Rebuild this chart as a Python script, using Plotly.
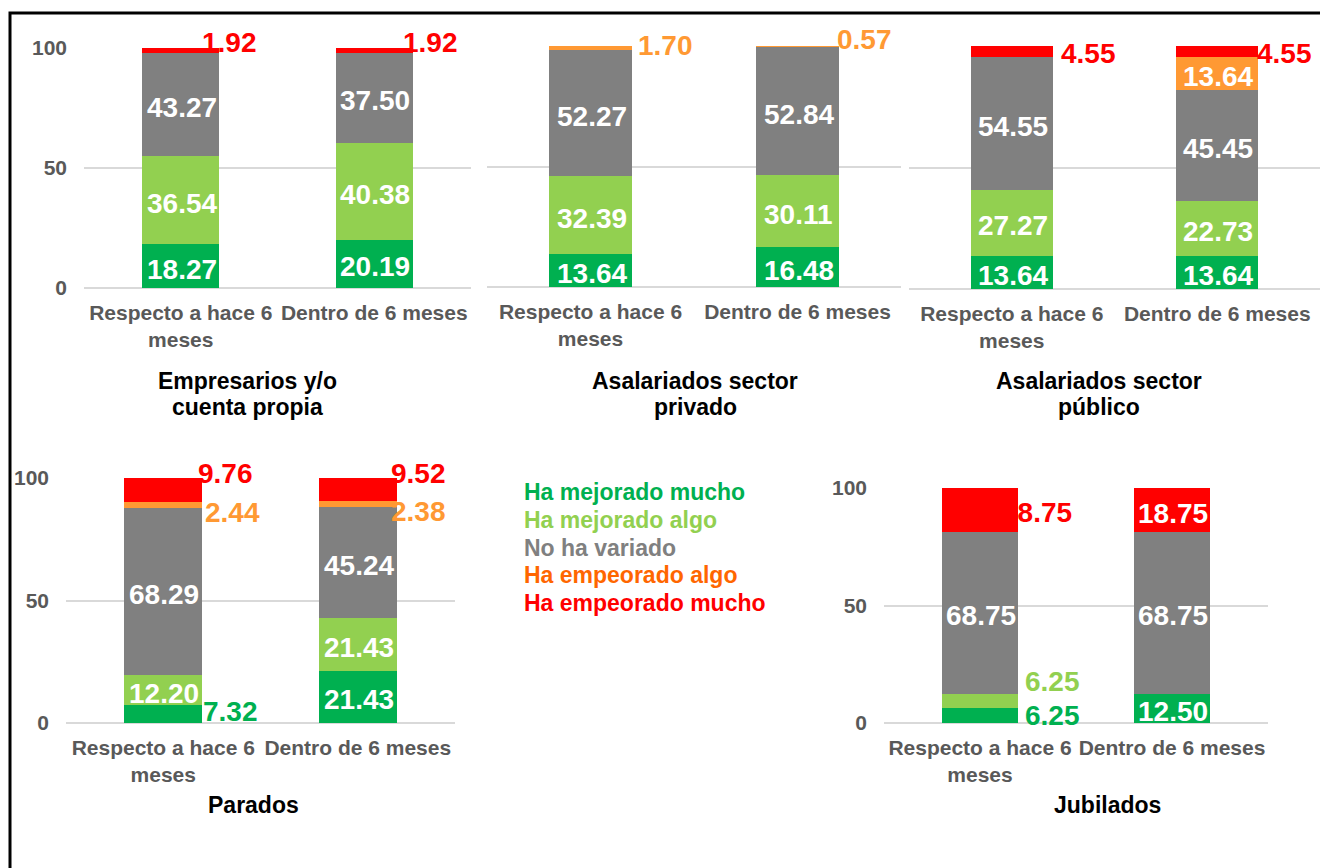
import plotly.graph_objects as go

# ---------------- data ----------------
categories = ["Respecto a hace 6 meses", "Dentro de 6 meses"]
tick_text = ["Respecto a hace 6<br>meses", "Dentro de 6 meses"]
series_names = ["Ha mejorado mucho", "Ha mejorado algo", "No ha variado",
                "Ha empeorado algo", "Ha empeorado mucho"]
panel_titles = [["Empresarios y/o", "cuenta propia"], ["Asalariados sector", "privado"],
                ["Asalariados sector", "público"], ["Parados"], ["Jubilados"]]

emp_mejor_mucho = [18.27, 20.19]
emp_mejor_algo = [36.54, 40.38]
emp_igual = [43.27, 37.50]
emp_peor_algo = [0, 0]
emp_peor_mucho = [1.92, 1.92]

priv_mejor_mucho = [13.64, 16.48]
priv_mejor_algo = [32.39, 30.11]
priv_igual = [52.27, 52.84]
priv_peor_algo = [1.70, 0.57]
priv_peor_mucho = [0, 0]

pub_mejor_mucho = [13.64, 13.64]
pub_mejor_algo = [27.27, 22.73]
pub_igual = [54.55, 45.45]
pub_peor_algo = [0, 13.64]
pub_peor_mucho = [4.55, 4.55]

par_mejor_mucho = [7.32, 21.43]
par_mejor_algo = [12.20, 21.43]
par_igual = [68.29, 45.24]
par_peor_algo = [2.44, 2.38]
par_peor_mucho = [9.76, 9.52]

jub_mejor_mucho = [6.25, 12.50]
jub_mejor_algo = [6.25, 0]
jub_igual = [68.75, 68.75]
jub_peor_algo = [0, 0]
jub_peor_mucho = [18.75, 18.75]

panels = [
    [emp_mejor_mucho, emp_mejor_algo, emp_igual, emp_peor_algo, emp_peor_mucho],
    [priv_mejor_mucho, priv_mejor_algo, priv_igual, priv_peor_algo, priv_peor_mucho],
    [pub_mejor_mucho, pub_mejor_algo, pub_igual, pub_peor_algo, pub_peor_mucho],
    [par_mejor_mucho, par_mejor_algo, par_igual, par_peor_algo, par_peor_mucho],
    [jub_mejor_mucho, jub_mejor_algo, jub_igual, jub_peor_algo, jub_peor_mucho],
]

# ---------------- styles ----------------
W, H = 1320, 868
bar_colors = ["#00B050", "#92D050", "#808080", "#FF9933", "#FF0000"]
legend_colors = ["#00B050", "#92D050", "#808080", "#FF6600", "#FF0000"]
FONT = "Arial, Liberation Sans, sans-serif"

boxes = [
    (84, 471, 48, 288),
    (487, 901, 46, 287),
    (909, 1320, 46, 289),
    (66, 455, 478, 723),
    (884, 1268, 488, 723),
]
show_yticks = [True, False, False, True, True]
title_pos = [(247, 381), (695, 381), (1099, 381), (253, 805), (1107, 805)]

outside = {
    (0, 0, 4): (49, 8), (0, 1, 4): (56, 8),
    (1, 0, 3): (75, 3), (1, 1, 3): (67, 7),
    (2, 0, 4): (77, -2), (2, 1, 4): (67, -2),
    (3, 0, 4): (62, 16), (3, 0, 3): (69, -8), (3, 0, 0): (67, 3),
    (3, 1, 4): (61, 16), (3, 1, 3): (61, -7),
    (4, 0, 4): (57, -2), (4, 0, 1): (72, 19), (4, 0, 0): (72, 0),
}

fig = go.Figure()
annotations = []

for p, series in enumerate(panels):
    sfx = "" if p == 0 else str(p + 1)
    xa, ya = "x" + sfx, "y" + sfx
    for s, vals in enumerate(series):
        fig.add_trace(go.Bar(
            x=categories, y=vals, name=series_names[s],
            marker=dict(color=bar_colors[s], line=dict(width=0)),
            xaxis=xa, yaxis=ya, showlegend=False, hoverinfo="skip",
        ))
    for c in range(len(categories)):
        base = 0.0
        for s, vals in enumerate(series):
            v = vals[c]
            mid = base + v / 2
            base += v
            if v == 0:
                continue
            key = (p, c, s)
            if key in outside:
                dx, dy = outside[key]
                col = bar_colors[s]
            else:
                dx, dy = 1, -3
                col = "white"
            annotations.append(dict(
                x=categories[c], y=min(mid, 100), xref=xa, yref=ya,
                text=f"{v:.2f}", showarrow=False, xshift=dx, yshift=dy,
                xanchor="center", yanchor="middle",
                font=dict(family=FONT, size=28, color=col, weight="bold"),
            ))
    l, r, t, b = boxes[p]
    fig.layout["xaxis" + sfx] = dict(
        domain=[l / W, r / W], anchor=ya, type="category",
        tickvals=categories, ticktext=tick_text, showgrid=False,
        showline=False, ticks="", zeroline=False,
        tickfont=dict(family=FONT, size=21, color="#595959", weight="bold"),
        ticklabelstandoff=10, fixedrange=True,
    )
    fig.layout["yaxis" + sfx] = dict(
        domain=[1 - b / H, 1 - t / H], anchor=xa, range=[0, 100],
        tickvals=[0, 50, 100], showticklabels=show_yticks[p],
        showgrid=True, gridcolor="#D9D9D9", gridwidth=2,
        zeroline=True, zerolinecolor="#D9D9D9", zerolinewidth=2,
        showline=False, ticks="", ticklabelstandoff=16,
        tickfont=dict(family=FONT, size=21, color="#595959", weight="bold"),
        fixedrange=True,
    )
    tx, ty = title_pos[p]
    for k, line in enumerate(panel_titles[p]):
        annotations.append(dict(
            x=tx / W, y=1 - (ty + 26 * k) / H, xref="paper", yref="paper",
            text=line, showarrow=False, xanchor="center", yanchor="middle",
            font=dict(family=FONT, size=23, color="black", weight="bold"),
        ))

for i, name in enumerate(series_names):
    annotations.append(dict(
        x=522 / W, y=1 - (492 + i * 27.8) / H, xref="paper", yref="paper",
        text=name, showarrow=False, xanchor="left", yanchor="middle",
        font=dict(family=FONT, size=23, color=legend_colors[i], weight="bold"),
    ))

fig.update_layout(
    width=W, height=H, margin=dict(l=0, r=0, t=0, b=0, autoexpand=False),
    barmode="stack", bargap=0.6,
    paper_bgcolor="white", plot_bgcolor="white",
    annotations=annotations,
    shapes=[dict(type="rect", xref="paper", yref="paper",
                 x0=10 / W, x1=1.05, y0=-0.05, y1=1 - 13 / H,
                 line=dict(color="black", width=3), fillcolor="rgba(0,0,0,0)")],
    showlegend=False,
)

page_css = "document.body.style.margin='0'; document.body.style.overflow='hidden';"

fig.write_html("out.html", post_script=page_css,
               config={"displayModeBar": False, "staticPlot": True})
